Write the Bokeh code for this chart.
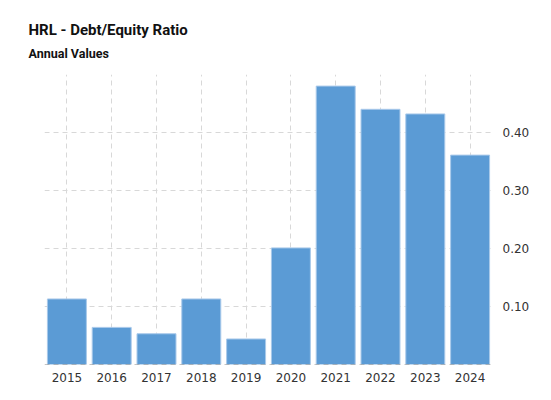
from bokeh.plotting import figure
from bokeh.models import FixedTicker, Span, Title, PrintfTickFormatter
from bokeh.embed import file_html
from bokeh.resources import INLINE

years = ["2015", "2016", "2017", "2018", "2019", "2020", "2021", "2022", "2023", "2024"]
ratios = [0.113, 0.064, 0.053, 0.113, 0.044, 0.201, 0.480, 0.440, 0.432, 0.361]
tick_values = [0.1, 0.2, 0.3, 0.4]
grid_values = [0.1, 0.2, 0.3, 0.4, 0.5]

p = figure(x_range=years, y_range=(0, 0.5), width=535, height=384,
           output_backend="svg", toolbar_location=None, y_axis_location="right",
           min_border_left=44, min_border_right=43, min_border_bottom=20,
           min_border_top=74)
p.x_range.range_padding = 0
p.outline_line_color = None
p.background_fill_color = "white"

p.vbar(x=years, top=ratios, width=0.87, fill_color="#5b9bd5",
       line_color="#a9c9ea", line_width=1)

# titles (stacked from the top down)
p.add_layout(Title(text="Annual Values", text_font="Roboto", text_font_size="12.5px",
                   text_font_style="bold", text_color="#111111", offset=-16,
                   standoff=28), "above")
p.add_layout(Title(text="HRL - Debt/Equity Ratio", text_font="Roboto",
                   text_font_size="15px", text_font_style="bold",
                   text_color="#111111", offset=-16, standoff=-19), "above")
p.add_layout(Title(text=" ", text_font_size="1px", standoff=2), "above")

# grid
p.ygrid.ticker = FixedTicker(ticks=grid_values)
p.ygrid.grid_line_color = "#d8d8d8"
p.ygrid.grid_line_dash = "5 4"
p.xgrid.grid_line_color = "#d8d8d8"
p.xgrid.grid_line_dash = "5 4"

p.add_layout(Span(location=0, dimension="width", line_color="#888888",
                  line_dash="5 4", line_width=1))

# axes
p.yaxis.ticker = FixedTicker(ticks=tick_values)
p.yaxis.formatter = PrintfTickFormatter(format="%.2f")
for ax in (p.xaxis[0], p.yaxis[0]):
    ax.axis_line_color = None
    ax.major_tick_line_color = None
    ax.minor_tick_line_color = None
    ax.major_label_text_font = "DejaVu Sans"
    ax.major_label_text_font_size = "12px"
    ax.major_label_text_color = "#333333"
p.yaxis.major_label_standoff = 4
p.xaxis.major_label_standoff = 2

open("out.html", "w").write(file_html(p, INLINE))
